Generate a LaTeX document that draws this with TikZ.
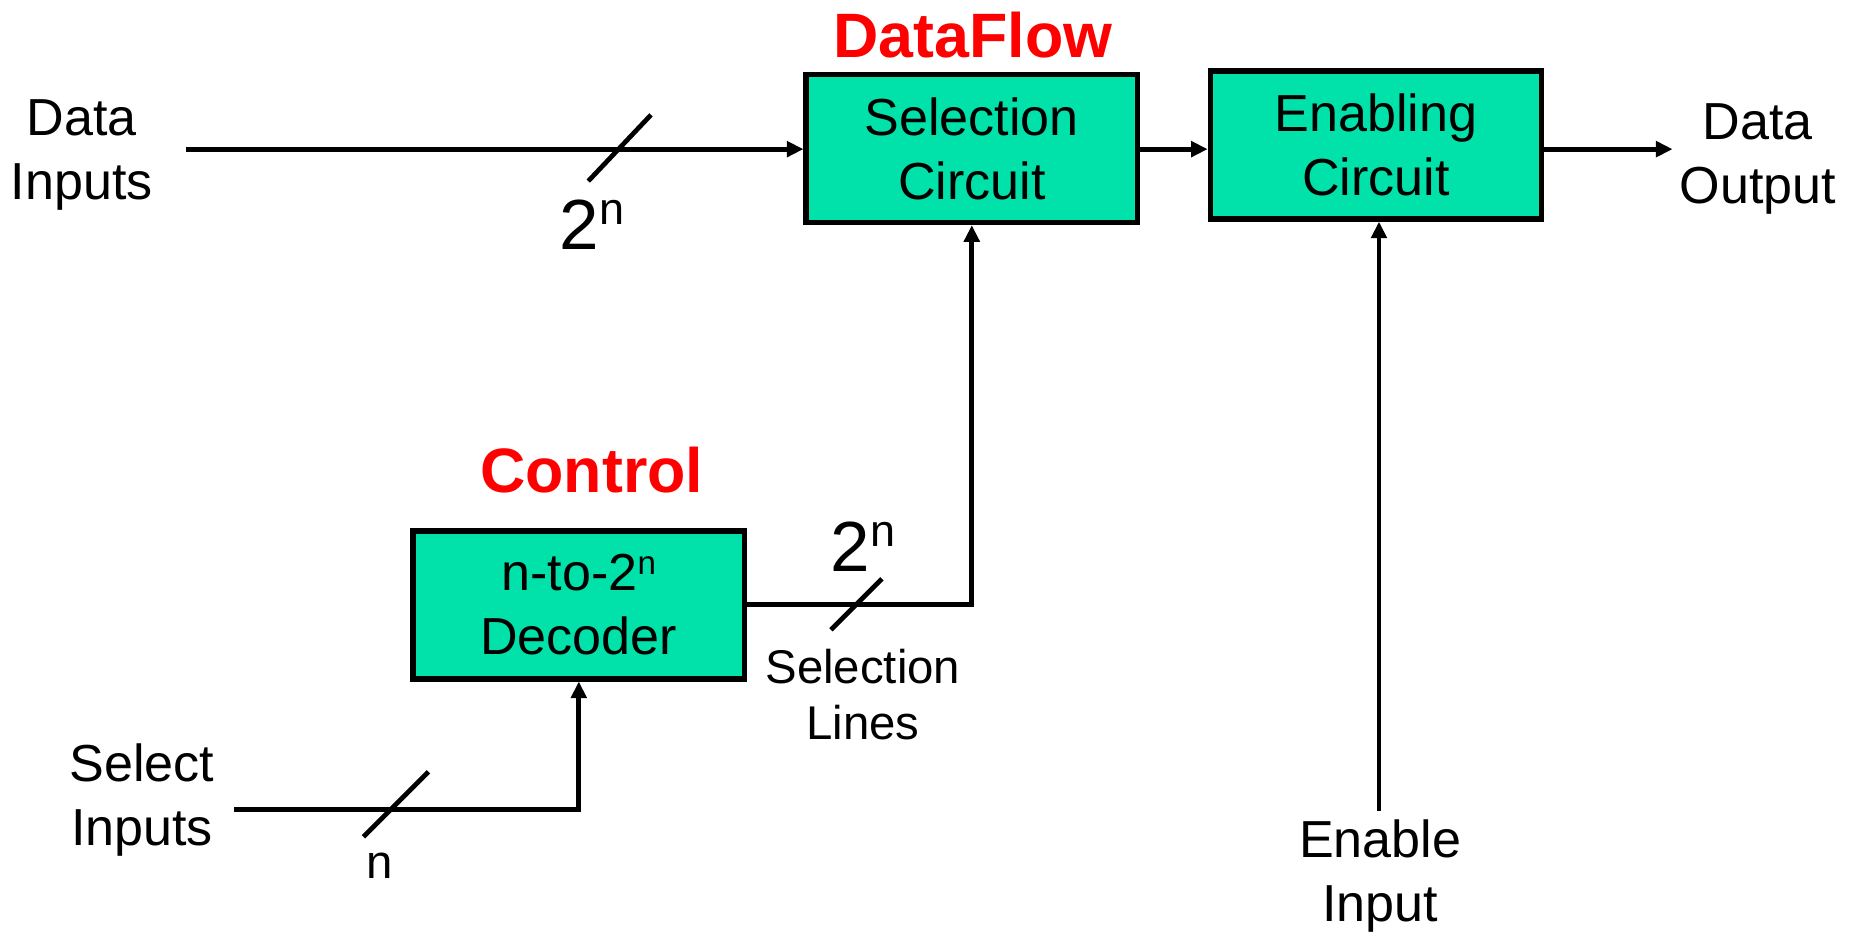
\documentclass[tikz,border=0pt]{standalone}
\usepackage{fontspec}
\setmainfont{Liberation Sans}
\usetikzlibrary{arrows.meta}
\definecolor{boxgreen}{RGB}{0,226,170}
\definecolor{titlered}{RGB}{255,0,0}
\begin{document}
\begin{tikzpicture}[x=1pt,y=-1pt,
  blk/.style={draw, line width=4.5pt, fill=boxgreen, minimum width=280pt, minimum height=125pt,
    inner sep=0pt, align=center, font=\fontsize{44}{54}\selectfont},
  lbl/.style={inner sep=0pt, align=center, font=\fontsize{44}{54}\selectfont},
  small/.style={inner sep=0pt, align=center, font=\fontsize{40}{47}\selectfont},
  title/.style={inner sep=0pt, text=titlered, font=\fontsize{53}{60}\selectfont\bfseries},
  wire/.style={line width=4pt},
  arr/.style={wire, -{Triangle[length=14pt,width=13pt]}},
  tick/.style={line width=4pt}]
\useasboundingbox (0,0) rectangle (1568,789);
% blocks
\node[blk] (sel) at (821,125.5) {Selection\\Circuit};
\node[blk] (en) at (1162.5,122.5) {Enabling\\Circuit};
\node[blk] (dec) at (489,511) {n-to-2\raisebox{14pt}{\fontsize{28}{30}\selectfont n}\\Decoder};
% titles
\node[title] (df) at (822,30) {DataFlow};
\node[title] (ctl) at (500,397) {Control};
% labels
\node[lbl] (din) at (69,131) {Data\\Inputs};
\node[lbl] (dout) at (1485,134) {Data\\Output};
\node[lbl] (sin) at (120,676) {Select\\Inputs};
\node[lbl] (ein) at (1166,740) {Enable\\Input};
\node[small] (sl) at (729,587) {Selection\\Lines};
\node[inner sep=0pt] (twoA) at (500,190) {\fontsize{60}{62}\selectfont 2\raisebox{21pt}{\fontsize{38}{40}\selectfont n}};
\node[inner sep=0pt] (twoB) at (729,462) {\fontsize{60}{62}\selectfont 2\raisebox{21pt}{\fontsize{38}{40}\selectfont n}};
\node[inner sep=0pt, font=\fontsize{40}{44}\selectfont] (nlab) at (321,731) {n};
% connector endpoints
\coordinate (dinE) at (157,126);
\coordinate (sinE) at (198,684);
\coordinate (einS) at (1165,685);
\coordinate (outE) at (1413,126);
% connectors
\draw[arr] (dinE) -- (dinE -| sel.west);
\draw[arr] (sel.east |- 0,126) -- (en.west |- 0,126);
\draw[arr] (en.east |- 0,126) -- (outE);
\draw[arr] (dec.east) -- (dec.east -| sel.south) -- (sel.south);
\draw[arr] (sinE) -- (sinE -| dec.south) -- (dec.south);
\draw[arr] (einS) -- (einS |- en.south);
% bus ticks
\coordinate (t1a) at (497,153); \coordinate (t1b) at (550,97);
\coordinate (t2a) at (702,532); \coordinate (t2b) at (745,489);
\coordinate (t3a) at (307,707); \coordinate (t3b) at (362,652);
\draw[tick] (t1a) -- (t1b);
\draw[tick] (t2a) -- (t2b);
\draw[tick] (t3a) -- (t3b);
\end{tikzpicture}
\end{document}
